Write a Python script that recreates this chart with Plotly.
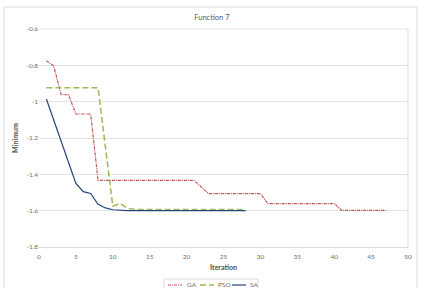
import plotly.graph_objects as go

iter_ga = list(range(1, 48))
ga = [-0.775, -0.804, -0.962, -0.962, -1.068, -1.068, -1.068, -1.433,
      -1.433, -1.433, -1.433, -1.433, -1.433, -1.433, -1.433, -1.433,
      -1.433, -1.433, -1.433, -1.433, -1.433, -1.47, -1.506,
      -1.506, -1.506, -1.506, -1.506, -1.506, -1.506, -1.506,
      -1.561, -1.561, -1.561, -1.561, -1.561, -1.561, -1.561, -1.561, -1.561, -1.561,
      -1.598, -1.598, -1.598, -1.598, -1.598, -1.598, -1.598]

iter_pso = list(range(1, 29))
pso = [-0.923, -0.923, -0.923, -0.923, -0.923, -0.923, -0.923, -0.923,
       -1.25, -1.575, -1.56, -1.588, -1.593, -1.593, -1.593, -1.593,
       -1.593, -1.593, -1.593, -1.593, -1.593, -1.593, -1.593, -1.593,
       -1.593, -1.593, -1.593, -1.593]

iter_sa = list(range(1, 29))
sa = [-0.985, -1.10, -1.21, -1.33, -1.45, -1.495, -1.505, -1.565,
      -1.585, -1.595, -1.599, -1.6, -1.6, -1.6, -1.6, -1.6, -1.6, -1.6,
      -1.6, -1.6, -1.6, -1.6, -1.6, -1.6, -1.6, -1.6, -1.6, -1.6]

series_names = ["GA", "PSO", "SA"]
x_ticks = [0, 5, 10, 15, 20, 25, 30, 35, 40, 45, 50]
y_ticks = [-0.6, -0.8, -1.0, -1.2, -1.4, -1.6, -1.8]
y_tick_text = ["-0.6", "-0.8", "-1", "-1.2", "-1.4", "-1.6", "-1.8"]

FONT = "Lato"
GREY = "#6E6E6E"
styles = [dict(color="#C0504D", width=1.2, dash="3px,1px,1px,1px"),
          dict(color="#9BBB59", width=1.5, dash="6px,3px"),
          dict(color="#264478", width=1.2)]

fig = go.Figure()
for name, xs, ys, st in zip(series_names, [iter_ga, iter_pso, iter_sa], [ga, pso, sa], styles):
    fig.add_trace(go.Scatter(x=xs, y=ys, mode="lines", name=name, line=st, showlegend=False))

fig.update_layout(
    width=429, height=288,
    margin=dict(l=39, r=21, t=29, b=41, autoexpand=False),
    paper_bgcolor="white", plot_bgcolor="white",
    font=dict(family=FONT, size=7, color=GREY),
    title=dict(text="Function 7", x=0.494, xanchor="center", y=0.94, yanchor="middle",
               font=dict(family=FONT, size=7.5, color="#595959")),
    xaxis=dict(range=[0, 50], tickvals=x_ticks, showgrid=False, zeroline=False,
               showline=True, linecolor="#D9D9D9", linewidth=1,
               ticks="", ticklabelstandoff=3, tickfont=dict(size=6.5, color=GREY),
               title=dict(text="<b>Iteration</b>", font=dict(size=7, color="#505050"), standoff=6)),
    yaxis=dict(range=[-1.8, -0.6], tickvals=y_ticks, ticktext=y_tick_text,
               showgrid=True, gridcolor="#E3E3E3", gridwidth=1, zeroline=False,
               showline=False, ticks="", tickfont=dict(size=6.5, color=GREY),
               title=dict(text="<b>Minimum</b>", font=dict(size=7, color="#505050"), standoff=7)),
    showlegend=False,
)

# plot area right and top edge lines
fig.add_shape(type="line", xref="paper", yref="paper", x0=1, x1=1, y0=0, y1=1,
              line=dict(color="#D9D9D9", width=1))
fig.add_shape(type="line", xref="paper", yref="paper", x0=0, x1=1, y0=1, y1=1,
              line=dict(color="#E3E3E3", width=1))
# outer chart border
fig.add_shape(type="rect", xref="paper", yref="paper",
              x0=-0.095, x1=1.0244, y0=-0.25, y1=1.1009,
              line=dict(color="#D9D9D9", width=1), layer="below")

# manual legend (box, samples, labels)
fig.add_shape(type="rect", xref="paper", yref="paper",
              x0=0.3388, x1=0.5935, y0=-0.23, y1=-0.1468,
              line=dict(color="#D9D9D9", width=1), fillcolor="white")
leg_line_x = [(0.3496, 0.3875), (0.4363, 0.4743), (0.5230, 0.5610)]
leg_text_x = [0.3957, 0.4797, 0.5664]
for name, st, (lx0, lx1), tx in zip(series_names, styles, leg_line_x, leg_text_x):
    fig.add_shape(type="line", xref="paper", yref="paper", x0=lx0, x1=lx1,
                  y0=-0.1743, y1=-0.1743, line=st)
    fig.add_annotation(text=name, xref="paper", yref="paper", x=tx, y=-0.1743,
                       xanchor="left", yanchor="middle", showarrow=False,
                       font=dict(family=FONT, size=6.5, color=GREY))

fig.write_html("out.html")
